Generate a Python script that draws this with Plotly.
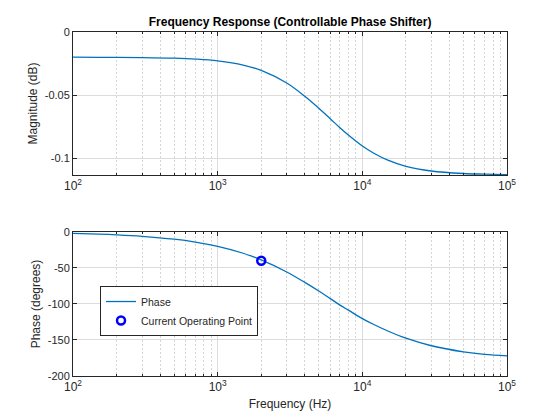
"""
Frequency response of the controllable phase shifter (magnitude + phase)
"""

import plotly.graph_objects as go

# values
freq_hz = [100, 150, 200, 300, 500, 700, 1000, 1500, 2000, 3000, 4000, 5000,
           6000, 7000, 8000, 10000, 12000, 15000, 20000, 30000, 50000, 70000, 100000]
magnitude_db = [-0.0200, -0.0201, -0.0201, -0.0203, -0.0208, -0.0215, -0.0229,
                -0.0262, -0.0305, -0.0405, -0.0510, -0.0605, -0.0688, -0.0760,
                -0.0818, -0.0905, -0.0962, -0.1017, -0.1066, -0.1103, -0.1123,
                -0.1128, -0.1132]
phase_deg = [-2.0, -3.0, -4.0, -6.0, -10.0, -14.0, -20.0, -29.5, -38.7, -55.5,
             -70.0, -82.0, -92.5, -101.5, -108.5, -120.3, -128.5, -137.5,
             -147.5, -158.0, -166.5, -170.0, -172.0]
op_freq = [2000]
op_phase = [-40]

mag_ticks = [-0.1, -0.05, 0]
mag_labels = ["-0.1", "-0.05", "0"]
phase_ticks = [-200, -150, -100, -50, 0]
decade_ticks = [100, 1000, 10000, 100000]
decade_labels = ["10<sup>2</sup>", "10<sup>3</sup>", "10<sup>4</sup>", "10<sup>5</sup>"]
minor_ticks = [m * d for d in (100, 1000, 10000) for m in range(2, 10)]

LINE_BLUE = "#0072BD"
AX = "#262626"
FONT = "Liberation Sans, Arial, Helvetica, sans-serif"

fig = go.Figure()

fig.add_trace(go.Scatter(
    x=freq_hz, y=magnitude_db, mode="lines", line=dict(color=LINE_BLUE, width=1.3, shape="spline"),
    showlegend=False, xaxis="x", yaxis="y"
))
fig.add_trace(go.Scatter(
    x=freq_hz, y=phase_deg, mode="lines", name="Phase",
    line=dict(color=LINE_BLUE, width=1.3, shape="spline"), xaxis="x2", yaxis="y2"
))
fig.add_trace(go.Scatter(
    x=op_freq, y=op_phase, mode="markers", name="Current Operating Point",
    marker=dict(symbol="circle-open", size=8, color="#0000FF", line=dict(width=2.5, color="#0000FF")),
    xaxis="x2", yaxis="y2"
))

xcommon = dict(
    type="log", range=[2, 5], tickvals=decade_ticks, ticktext=decade_labels,
    showline=True, linecolor=AX, linewidth=1, mirror="ticks",
    ticks="inside", ticklen=4, tickcolor=AX,
    showgrid=True, gridcolor="#dcdcdc", gridwidth=1,
    minor=dict(tickvals=minor_ticks, ticks="inside", ticklen=2, tickcolor=AX,
               showgrid=True, gridcolor="#d4d4d4", griddash="2px,2px", gridwidth=0.8),
    zeroline=False, tickfont=dict(size=12, color=AX), domain=[0.1304, 0.9054],
    automargin=False,
)
ycommon = dict(
    showline=True, linecolor=AX, linewidth=1, mirror="ticks",
    ticks="inside", ticklen=4, tickcolor=AX,
    showgrid=True, gridcolor="#dcdcdc", zeroline=False,
    tickfont=dict(size=11, color=AX), automargin=False,
)

fig.update_layout(
    width=560, height=420,
    margin=dict(l=0, r=0, t=0, b=0),
    paper_bgcolor="white", plot_bgcolor="white",
    font=dict(family=FONT, color=AX, size=11),
    xaxis=dict(xcommon, anchor="y"),
    xaxis2=dict(xcommon, anchor="y2",
                title=dict(text="Frequency (Hz)", font=dict(size=12, color=AX), standoff=6)),
    yaxis=dict(ycommon, range=[-0.1135, 0], tickvals=mag_ticks, ticktext=mag_labels,
               domain=[0.5833, 0.9238], anchor="x",
               title=dict(text="Magnitude (dB)", font=dict(size=12, color=AX), standoff=4)),
    yaxis2=dict(ycommon, range=[-200, 0], tickvals=phase_ticks,
                ticktext=[str(v) for v in phase_ticks],
                domain=[0.1048, 0.4476], anchor="x2",
                title=dict(text="Phase (degrees)", font=dict(size=12, color=AX), standoff=4)),
    title=dict(text="<b>Frequency Response (Controllable Phase Shifter)</b>",
               x=0.518, xanchor="center", y=0.948, yanchor="middle",
               font=dict(size=12, color="black")),
    legend=dict(x=0.1786, y=0.319, xanchor="left", yanchor="top",
                bgcolor="white", bordercolor=AX, borderwidth=1,
                font=dict(size=10.5, color=AX), tracegroupgap=0,
                itemwidth=30),
)

# drop the browser's default body margin so the figure sits at the window corner
fig.write_html("out.html", config={"displayModeBar": False},
               post_script="document.body.style.margin = '0';")
